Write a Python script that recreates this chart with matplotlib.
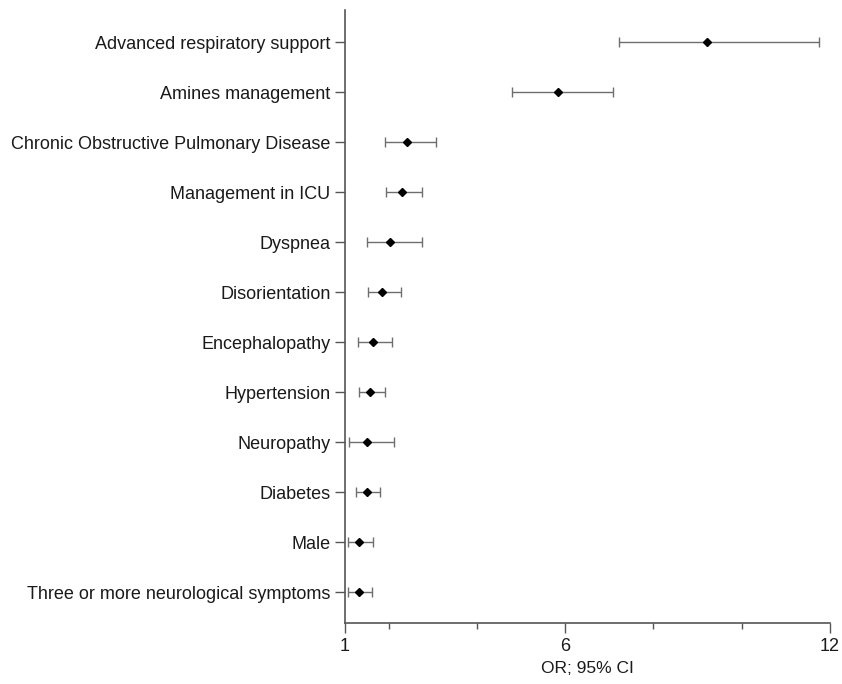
import matplotlib
matplotlib.use("Agg")
import matplotlib.pyplot as plt
from matplotlib.ticker import FixedLocator

plt.rcParams['font.family'] = ['Liberation Sans', 'DejaVu Sans']

categories = [
    "Advanced respiratory support",
    "Amines management",
    "Chronic Obstructive Pulmonary Disease",
    "Management in ICU",
    "Dyspnea",
    "Disorientation",
    "Encephalopathy",
    "Hypertension",
    "Neuropathy",
    "Diabetes",
    "Male",
    "Three or more neurological symptoms",
]
odds_ratio = [9.22, 5.84, 2.42, 2.31, 2.04, 1.86, 1.64, 1.58, 1.52, 1.51, 1.33, 1.32]
ci_low = [7.23, 4.80, 1.92, 1.95, 1.52, 1.53, 1.31, 1.33, 1.10, 1.25, 1.08, 1.07]
ci_high = [11.74, 7.08, 3.07, 2.76, 2.75, 2.27, 2.07, 1.92, 2.12, 1.81, 1.64, 1.62]
major_ticks = [1, 6, 12]
minor_ticks = [2, 4, 8, 10]

W, H = 842, 684
fig = plt.figure(figsize=(W / 100, H / 100), dpi=100)
ax = fig.add_axes([344.5 / W, 1 - 623 / H, (830 - 344.5) / W, (623 - 10) / H])

y = list(range(len(categories)))
xerr = [[o - l for o, l in zip(odds_ratio, ci_low)],
        [h - o for o, h in zip(odds_ratio, ci_high)]]
ax.errorbar(odds_ratio, y, xerr=xerr, fmt='none', ecolor='#6e6e6e',
            elinewidth=1.0, capsize=3.5, capthick=1.0, zorder=2)
ax.plot(odds_ratio, y, linestyle='none', marker='D', markersize=4.3,
        color='black', zorder=3)

ax.set_xlim(1, 12)
ax.set_ylim(len(categories) - 1 + 0.62, -0.65)
ax.set_yticks(y)
ax.set_yticklabels(categories, fontsize=13, color='#1a1a1a')
ax.xaxis.set_major_locator(FixedLocator(major_ticks))
ax.xaxis.set_minor_locator(FixedLocator(minor_ticks))
ax.set_xticklabels([str(t) for t in major_ticks], fontsize=13, color='#1a1a1a')
ax.set_xlabel("OR; 95% CI", fontsize=12.5, color='#1a1a1a', labelpad=4)

for s in ['top', 'right']:
    ax.spines[s].set_visible(False)
for s in ['left', 'bottom']:
    ax.spines[s].set_color('#555555')
    ax.spines[s].set_linewidth(1.2)
ax.tick_params(axis='y', length=7, width=1.0, color='#555555', pad=3)
ax.tick_params(axis='x', which='major', length=7, width=1.0, color='#555555', pad=4)
ax.tick_params(axis='x', which='minor', length=4, width=1.0, color='#555555')

fig.savefig("out.png", dpi=100)
